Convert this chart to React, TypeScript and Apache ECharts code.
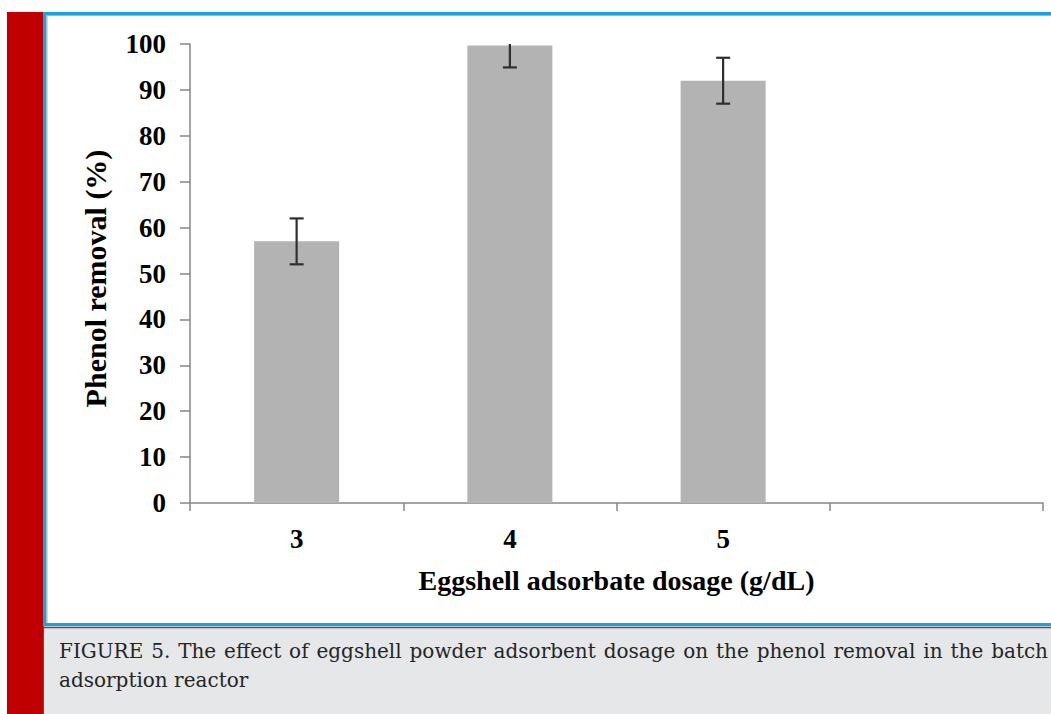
import React, { useEffect, useRef } from "react";
import * as echarts from "echarts";

const categories = ["3", "4", "5", ""];
const removal = [57, 99.7, 92];
const errors = [5, 4.8, 5];
const yTicks = { min: 0, max: 100, interval: 10 };
const xName = "Eggshell adsorbate dosage (g/dL)";
const yName = "Phenol removal (%)";
const captionLine1 =
  "FIGURE 5. The effect of eggshell powder adsorbent dosage on the phenol removal in the batch";
const captionLine2 = "adsorption reactor";

const W = 1051;
const H = 714;
const CAP_FONT = '20px "DejaVu Serif"';

function justifiedWords(text: string, x0: number, x1: number, y: number) {
  const ctx = document.createElement("canvas").getContext("2d")!;
  ctx.font = CAP_FONT;
  const words = text.split(" ");
  const widths = words.map((w) => ctx.measureText(w).width);
  const total = widths.reduce((a, b) => a + b, 0);
  const gap = (x1 - x0 - total) / (words.length - 1);
  let x = x0;
  return words.map((w, i) => {
    const el = {
      type: "text",
      x,
      y,
      silent: true,
      style: {
        text: w,
        font: CAP_FONT,
        fill: "#252525",
        verticalAlign: "middle",
      },
      z: 10,
    };
    x += widths[i] + gap;
    return el;
  });
}

export default function App() {
  const ref = useRef<HTMLDivElement>(null);
  useEffect(() => {
    if (!ref.current) return;
    const chart = echarts.init(ref.current, null, { renderer: "svg" });
    const errData = removal.map((v, i) => [i, v - errors[i], v + errors[i]]);
    const tickFont = {
      fontFamily: '"Liberation Serif"',
      fontWeight: "bold" as const,
      fontSize: 27,
      color: "#000",
    };
    chart.setOption({
      animation: false,
      backgroundColor: "#fff",
      grid: { left: 190, right: 8, top: 44, bottom: 211, containLabel: false },
      xAxis: {
        type: "category",
        data: categories,
        axisLine: { lineStyle: { color: "#868686", width: 1.5 } },
        axisTick: { show: true, length: 8, alignWithLabel: false, lineStyle: { color: "#868686", width: 1.5 } },
        axisLabel: { ...tickFont, margin: 22 },
        name: xName,
        nameLocation: "middle",
        nameGap: 63,
        nameTextStyle: { fontFamily: '"Liberation Serif"', fontWeight: "bold", fontSize: 28, color: "#000" },
      },
      yAxis: {
        type: "value",
        min: yTicks.min,
        max: yTicks.max,
        interval: yTicks.interval,
        splitLine: { show: false },
        axisLine: { show: true, lineStyle: { color: "#868686", width: 1.5 } },
        axisTick: { show: true, length: 10, lineStyle: { color: "#868686", width: 1.5 } },
        axisLabel: { ...tickFont, margin: 24 },
        name: yName,
        nameLocation: "middle",
        nameGap: 80,
        nameTextStyle: {
          fontFamily: '"Liberation Serif"',
          fontWeight: "bold",
          fontSize: 30,
          color: "#000",
          padding: [0, 10, 0, 0],
        },
      },
      series: [
        {
          type: "bar",
          data: removal,
          barWidth: 85,
          itemStyle: { color: "#b3b3b3" },
        },
        {
          type: "custom",
          data: errData,
          clip: true,
          z: 5,
          renderItem: (params: any, api: any) => {
            const x = api.value(0);
            const lo = api.coord([x, api.value(1)]);
            const hi = api.coord([x, api.value(2)]);
            const hw = 7;
            const style = { stroke: "#2f2f2f", lineWidth: 2.2 };
            return {
              type: "group",
              children: [
                { type: "line", shape: { x1: lo[0], y1: lo[1], x2: hi[0], y2: hi[1] }, style },
                { type: "line", shape: { x1: lo[0] - hw, y1: lo[1], x2: lo[0] + hw, y2: lo[1] }, style },
                { type: "line", shape: { x1: hi[0] - hw, y1: hi[1], x2: hi[0] + hw, y2: hi[1] }, style },
              ],
            };
          },
        },
      ],
      graphic: [
        { type: "rect", shape: { x: 7, y: 12, width: 36, height: H - 12 }, style: { fill: "#c00000" }, z: 10, silent: true },
        { type: "rect", shape: { x: 43, y: 626, width: W - 43, height: H - 626 }, style: { fill: "#e6e7e9" }, z: 9, silent: true },
        { type: "rect", shape: { x: 43, y: 12, width: W - 43, height: 3 }, style: { fill: "#1aa3de" }, z: 10, silent: true },
        { type: "rect", shape: { x: 43, y: 12, width: 3.5, height: 614 }, style: { fill: "#1aa3de" }, z: 10, silent: true },
        { type: "rect", shape: { x: 43, y: 623, width: W - 43, height: 3 }, style: { fill: "#1aa3de" }, z: 10, silent: true },
        { type: "line", shape: { x1: 47, y1: 15.5, x2: W, y2: 15.5 }, style: { stroke: "#b0b0b0", lineWidth: 1 }, z: 10, silent: true },
        { type: "line", shape: { x1: 47, y1: 15.5, x2: 47, y2: 623 }, style: { stroke: "#b0b0b0", lineWidth: 1 }, z: 10, silent: true },
        { type: "line", shape: { x1: 43, y1: 627.5, x2: W, y2: 627.5 }, style: { stroke: "#555", lineWidth: 1.5 }, z: 10, silent: true },
        { type: "line", shape: { x1: 43.5, y1: 626, x2: 43.5, y2: H }, style: { stroke: "#555", lineWidth: 1 }, z: 10, silent: true },
        ...justifiedWords(captionLine1, 59, 1048, 651),
        {
          type: "text",
          x: 59,
          y: 680,
          silent: true,
          z: 10,
          style: { text: captionLine2, font: CAP_FONT, fill: "#252525", verticalAlign: "middle" },
        },
      ],
    });
    return () => chart.dispose();
  }, []);
  return (
    <div style={{ position: "absolute", left: 0, top: 0, width: W, height: H, overflow: "hidden" }}>
      <div ref={ref} style={{ width: W, height: H }} />
    </div>
  );
}
